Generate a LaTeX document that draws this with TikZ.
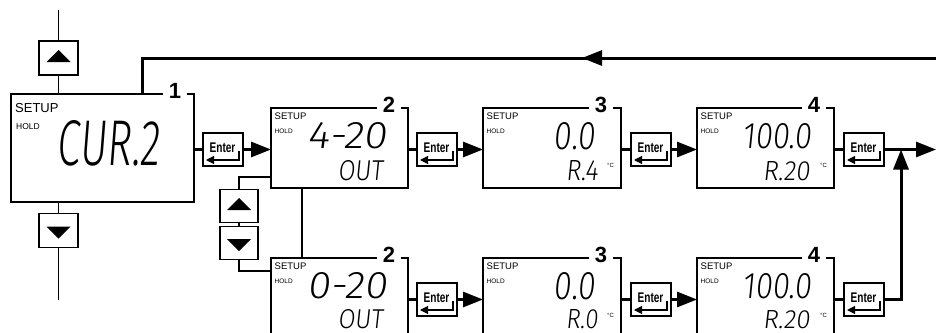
\documentclass[tikz,border=0pt]{standalone}
\usepackage{fontspec}
\usepackage{graphicx}
\setmainfont{Liberation Sans}
\IfFontExistsTF{Fira Sans Light}
  {\newfontfamily\lcdfont{Fira Sans Light}[FakeSlant=0.12]}
  {\newfontfamily\lcdfont{Liberation Sans}[FakeSlant=0.12]}
\newfontfamily\keyfont{Liberation Sans Bold}[FakeStretch=0.72]
\usetikzlibrary{arrows.meta,calc}

% segment display text, stretched to the given width and height
\newcommand\lcdtext[3]{\resizebox{#1}{#2}{\lcdfont #3}}

% Enter key: name, top left corner
\newcommand\enterkey[2]{%
  \node[keybox, anchor=north west, minimum width=40pt] (#1) at (#2) {};
  \node[inner sep=0pt, font=\keyfont\fontsize{14}{14}\selectfont] (#1-t) at ($(#1.north west)+(19.5,15)$) {Enter};
  \draw[link, -{Triangle[length=8pt,width=8pt]}] ($(#1.north west)+(36,18)$) |- ($(#1.north west)+(3,27)$);
}

\tikzset{
  panel/.style={draw, line width=1.1pt, anchor=north west, inner sep=0pt, outer sep=0pt,
    minimum width=137pt, minimum height=80pt},
  keybox/.style={draw, line width=1.1pt, inner sep=0pt, outer sep=0pt,
    minimum width=38pt, minimum height=33pt},
  upkey/.style={keybox, path picture={
    \fill ($(path picture bounding box.center)+(-12,4)$) -- ++(24,0) -- ++(-12,-12) -- cycle;}},
  downkey/.style={keybox, path picture={
    \fill ($(path picture bounding box.center)+(-12,-4)$) -- ++(24,0) -- ++(-12,12) -- cycle;}},
  stepnum/.style={fill=white, inner xsep=6pt, inner ysep=0pt, font=\bfseries\fontsize{22}{22}\selectfont},
  bigtag/.style={anchor=base west, inner sep=0pt, font=\fontsize{13}{13}\selectfont},
  tag/.style={anchor=base west, inner sep=0pt, font=\fontsize{9.5}{9.5}\selectfont},
  smalltag/.style={anchor=base west, inner sep=0pt, font=\fontsize{6.5}{6.5}\selectfont},
  unit/.style={anchor=base west, inner sep=0pt, font=\fontsize{6}{6}\selectfont},
  lcd/.style={anchor=base east, inner sep=0pt},
  link/.style={line width=1.1pt},
  flow/.style={line width=3pt},
  flowarrow/.style={-{Triangle[length=20pt,width=15pt]}},
}

\begin{document}
\begin{tikzpicture}[x=1pt, y=-1pt]
  \useasboundingbox (0,0) rectangle (936,332);
  \clip (0,0) rectangle (936,332);

  % first display and the keys beside it
  \node[panel, minimum width=183pt, minimum height=108pt] (b1) at (11,94) {};
  \node[stepnum] (n1) at ($(b1.north east)+(-19,-3)$) {1};
  \node[bigtag] (s1) at ($(b1.north west)+(4,18)$) {SETUP};
  \node[tag, font=\fontsize{8.5}{8.5}\selectfont] (h1) at ($(b1.north west)+(5,35)$) {HOLD};
  \node[lcd] (d1) at (160,165) {\lcdtext{103pt}{45pt}{CUR.2}};

  \coordinate (ltop) at (58.5,10);
  \coordinate (lbot) at (58.5,300);
  \node[upkey, minimum width=39pt, minimum height=34pt] (up1) at (58.5,58) {};
  \node[downkey, minimum width=39pt, minimum height=34pt] (down1) at (58.5,230.5) {};
  \draw[link] (ltop) -- (up1);
  \draw[link] (up1) -- (up1 |- b1.north);
  \draw[link] (b1.south -| down1) -- (down1);
  \draw[link] (down1) -- (lbot);

  % upper row (4-20)
  \node[panel] (b2a) at (271,108) {};
  \node[panel, minimum width=138pt] (b3a) at (483,108) {};
  \node[panel] (b4a) at (697,108) {};
  % lower row (0-20)
  \node[panel] (b2b) at (271,258) {};
  \node[panel, minimum width=138pt] (b3b) at (483,258) {};
  \node[panel] (b4b) at (697,258) {};

  \node[stepnum] (n2a) at ($(b2a.north east)+(-19,-3)$) {2};
  \node[stepnum] (n3a) at ($(b3a.north east)+(-20,-3)$) {3};
  \node[stepnum] (n4a) at ($(b4a.north east)+(-20,-3)$) {4};
  \node[stepnum] (n2b) at ($(b2b.north east)+(-19,-3)$) {2};
  \node[stepnum] (n3b) at ($(b3b.north east)+(-20,-3)$) {3};
  \node[stepnum] (n4b) at ($(b4b.north east)+(-20,-3)$) {4};

  \foreach \b in {b2a,b3a,b4a,b2b,b3b,b4b} {
    \node[tag] (\b-s) at ($(\b.north west)+(3.5,11)$) {SETUP};
    \node[smalltag] (\b-h) at ($(\b.north west)+(3.5,25)$) {HOLD};
  }

  \node[lcd] (d2a) at (387,148) {\lcdtext{79pt}{26pt}{4-20}};
  \node[lcd] (o2a) at (383,180) {\lcdtext{45pt}{20pt}{OUT}};
  \node[lcd] (d3a) at (595,149) {\lcdtext{41pt}{27pt}{0.0}};
  \node[lcd] (r3a) at (598,180) {\lcdtext{32pt}{20pt}{R.4}};
  \node[unit] (c3a) at (607,167) {°C};
  \node[lcd] (d4a) at (812,148) {\lcdtext{69pt}{25pt}{100.0}};
  \node[lcd] (r4a) at (810,180) {\lcdtext{47pt}{19pt}{R.20}};
  \node[unit] (c4a) at (820,167) {°C};

  \node[lcd] (d2b) at (387,298) {\lcdtext{79pt}{26pt}{0-20}};
  \node[lcd] (o2b) at (383,328) {\lcdtext{45pt}{19pt}{OUT}};
  \node[lcd] (d3b) at (595,299) {\lcdtext{41pt}{27pt}{0.0}};
  \node[lcd] (r3b) at (598,328) {\lcdtext{32pt}{19pt}{R.0}};
  \node[unit] (c3b) at (607,317) {°C};
  \node[lcd] (d4b) at (812,298) {\lcdtext{69pt}{25pt}{100.0}};
  \node[lcd] (r4b) at (810,328) {\lcdtext{47pt}{18pt}{R.20}};
  \node[unit] (c4b) at (820,317) {°C};

  % Enter keys
  \enterkey{e1}{203,133}
  \enterkey{e2a}{417,133}
  \enterkey{e3a}{631,133}
  \enterkey{e4a}{844,133}
  \enterkey{e2b}{417,283}
  \enterkey{e3b}{631,283}
  \enterkey{e4b}{844,283}

  % arrow keys between the rows
  \node[upkey] (up2) at (239,206) {};
  \node[downkey] (down2) at (239,243) {};
  \draw[link] ([yshift=11pt]b2a.south west) -| (up2.north);
  \draw[link] (up2) -- (down2);
  \draw[link] (down2.south) |- ([yshift=-13pt]b2b.north west);
  \draw[link] ([xshift=31pt]b2a.south west) -- ([xshift=31pt]b2b.north west);

  % main flow
  \draw[flow] (b1.east |- e1.west) -- (e1.west);
  \draw[flow, flowarrow] (e1.east) -- (e1.east -| b2a.west);
  \foreach \r in {a,b} {
    \draw[flow] (b2\r.east |- e2\r.west) -- (e2\r.west);
    \draw[flow, flowarrow] (e2\r.east) -- (e2\r.east -| b3\r.west);
    \draw[flow] (b3\r.east |- e3\r.west) -- (e3\r.west);
    \draw[flow, flowarrow] (e3\r.east) -- (e3\r.east -| b4\r.west);
    \draw[flow] (b4\r.east |- e4\r.west) -- (e4\r.west);
  }
  \coordinate (jn) at (901,149.5);
  \coordinate (outr) at (936,149.5);
  \draw[flow, flowarrow] (e4a.east) -- (outr);
  \draw[flow, flowarrow] (e4b.east) -| (jn);

  % return line back to the first display
  \coordinate (topr) at (936,58);
  \coordinate (rettip) at (582,58);
  \draw[flow] ([xshift=-52pt]b1.north east) |- (topr);
  \draw[flow, flowarrow] (topr) -- (rettip);
\end{tikzpicture}
\end{document}
